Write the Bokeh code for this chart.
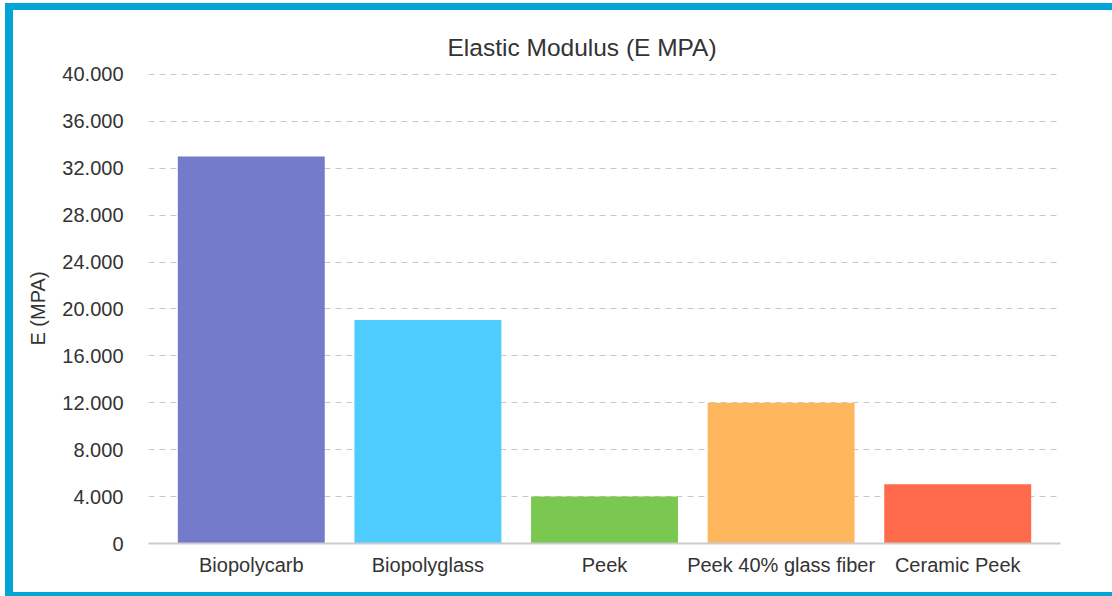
from bokeh.plotting import figure
from bokeh.models import FactorRange, Range1d, FixedTicker, ColumnDataSource
from bokeh.embed import file_html
from bokeh.resources import INLINE

categories = ["Biopolycarb", "Biopolyglass", "Peek", "Peek 40% glass fiber", "Ceramic Peek"]
values = [33000, 19050, 4000, 12000, 5050]
colors = ["#737bca", "#4fcdff", "#7bc850", "#ffb75e", "#ff6a4a"]
y_ticks = [0, 4000, 8000, 12000, 16000, 20000, 24000, 28000, 32000, 36000, 40000]
y_tick_labels = ["0", "4.000", "8.000", "12.000", "16.000", "20.000", "24.000",
                 "28.000", "32.000", "36.000", "40.000"]

FONT = "Liberation Sans"
TXT = "#333333"
FRAME = "#03a5d6"

source = ColumnDataSource(dict(cat=categories, val=values, color=colors))

p = figure(
    x_range=FactorRange(*categories, range_padding=0.082, range_padding_units="absolute"),
    y_range=Range1d(0, 40080),
    width=1099, height=582,
    output_backend="svg", toolbar_location=None,
    title="Elastic Modulus (E MPA)",
    min_border_left=135, min_border_right=52, min_border_top=63, min_border_bottom=49,
)
p.styles = {
    "margin-left": "13px",
    "margin-top": "10px",
    "box-shadow": (f"-8px -7px 0 0 {FRAME}, 0 -7px 0 0 {FRAME}, "
                   f"-8px 4px 0 0 {FRAME}, 0 4px 0 0 {FRAME}"),
}

p.vbar(x="cat", top="val", width=0.832, color="color", line_color=None, source=source)

p.title.align = "left"
p.title.offset = 299
p.title.text_font = FONT
p.title.text_font_size = "24.5px"
p.title.text_font_style = "normal"
p.title.text_color = TXT
p.title.standoff = 25

p.outline_line_color = None
p.background_fill_color = "white"
p.border_fill_color = "white"

# x axis
p.xaxis.axis_line_color = "#cccccc"
p.xaxis.axis_line_width = 2
p.xaxis.major_tick_line_color = None
p.xaxis.minor_tick_line_color = None
p.xaxis.major_tick_out = 0
p.xaxis.major_label_standoff = 10
p.xaxis.major_label_text_font = FONT
p.xaxis.major_label_text_font_size = "20px"
p.xaxis.major_label_text_color = TXT
p.xgrid.grid_line_color = None

# y axis
p.yaxis.ticker = FixedTicker(ticks=y_ticks)
p.yaxis.major_label_overrides = {t: l for t, l in zip(y_ticks, y_tick_labels)}
p.yaxis.axis_line_color = None
p.yaxis.major_tick_line_color = None
p.yaxis.minor_tick_line_color = None
p.yaxis.major_tick_out = 0
p.yaxis.major_label_standoff = 25
p.yaxis.major_label_text_font = FONT
p.yaxis.major_label_text_font_size = "20px"
p.yaxis.major_label_text_color = TXT
p.yaxis.axis_label = "E (MPA)"
p.yaxis.axis_label_text_font = FONT
p.yaxis.axis_label_text_font_size = "20px"
p.yaxis.axis_label_text_font_style = "normal"
p.yaxis.axis_label_text_color = TXT
p.yaxis.axis_label_standoff = 10

p.ygrid.grid_line_color = "#c8c8c8"
p.ygrid.grid_line_dash = "6 5"
p.ygrid.grid_line_width = 1

open("out.html", "w").write(file_html(p, INLINE))
